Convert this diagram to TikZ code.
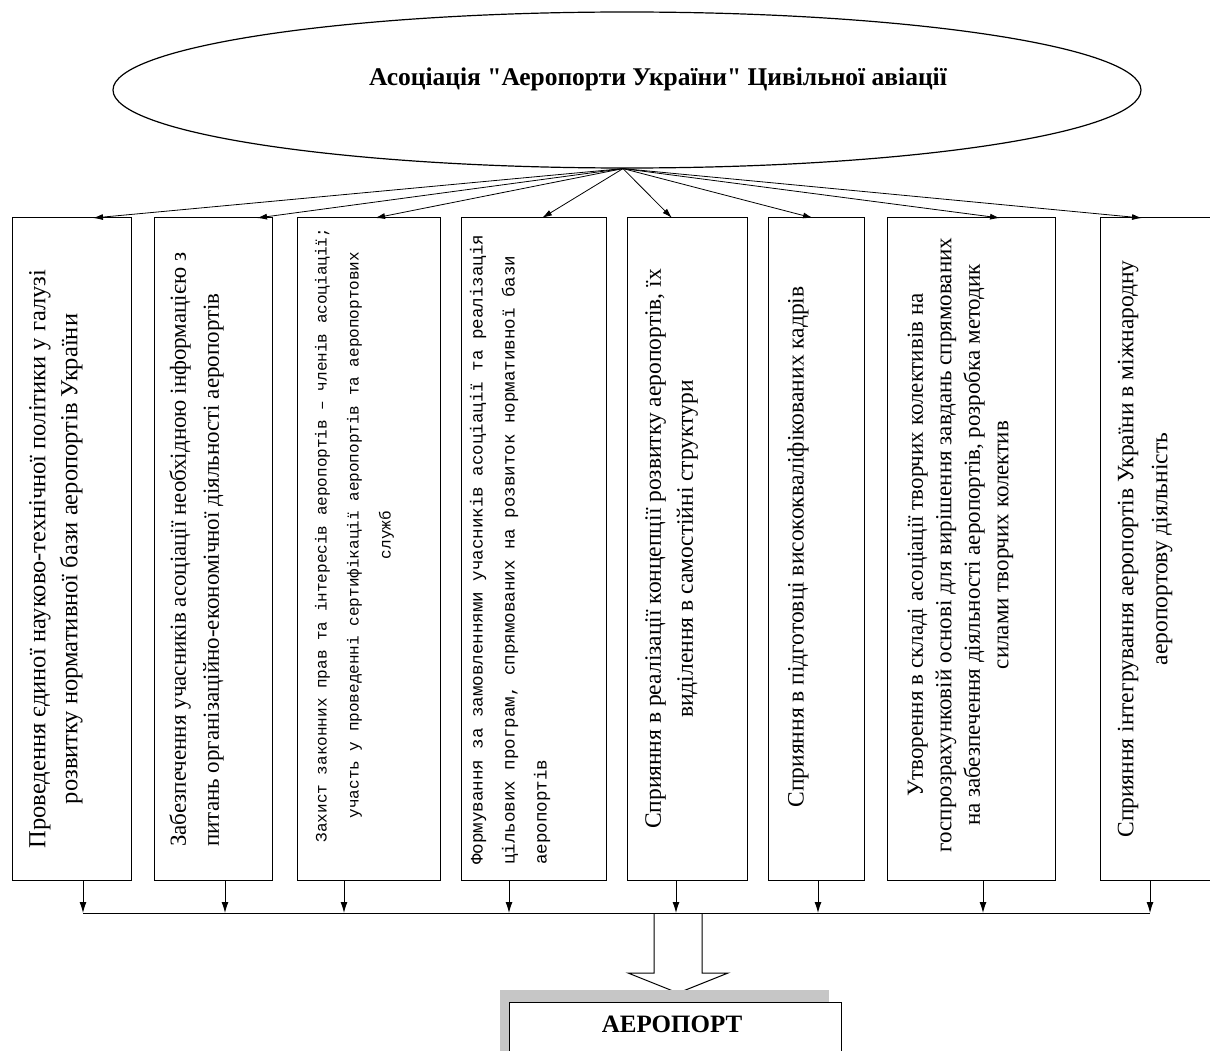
\documentclass[tikz,border=0pt]{standalone}
\usepackage{fontspec}
\setmainfont{Liberation Serif}
\setmonofont{Liberation Mono}
\newfontfamily\titlefont{Liberation Serif}[Ligatures=TeXOff]
\usetikzlibrary{arrows.meta,calc,shapes.geometric}
\tikzset{
  box/.style={draw, line width=1pt, rectangle, inner sep=0pt, outer sep=0pt, minimum height=662pt},
  vtext/.style={rotate=90, inner sep=0pt, font=\fontsize{23.5}{32}\selectfont},
  arr/.style={-{Latex[length=10pt,width=6pt]}, line width=0.8pt},
  barr/.style={-{Latex[length=11pt,width=7pt]}, line width=0.9pt},
}
\begin{document}
\begin{tikzpicture}[x=1pt,y=-1pt]
\useasboundingbox (0,0) rectangle (1210,1051);
\clip (0,0) rectangle (1210,1051);
% top ellipse
\node[ellipse, draw, line width=1.2pt, minimum width=1028pt, minimum height=156pt, inner sep=0pt] (ell) at (627,90) {};
\node[font=\titlefont\bfseries\fontsize{25.5}{28}\selectfont, inner sep=0pt] (title) at (658,79) {Асоціація "Аеропорти України" Цивільної авіації};
% boxes
\node[box, minimum width=119pt] (b1) at (71.5,549) {};
\node[box, minimum width=118pt] (b2) at (213,549) {};
\node[box, minimum width=143pt] (b3) at (368.5,549) {};
\node[box, minimum width=145pt] (b4) at (533.5,549) {};
\node[box, minimum width=120pt] (b5) at (687,549) {};
\node[box, minimum width=96pt] (b6) at (816,549) {};
\node[box, minimum width=168pt] (b7) at (971,549) {};
\node[box, minimum width=140pt] (b8) at (1170,549) {};
% texts
\node[vtext, align=center, font=\fontsize{24.5}{32}\selectfont] (t1) at (56,559) {Проведення єдиної науково-технічної політики у галузі\\розвитку нормативної бази аеропортів України};
\node[vtext, align=left, anchor=west, font=\fontsize{23}{33}\selectfont] (t2) at (196.5,847) {Забезпечення учасників асоціації необхідною інформацією з\\питань організаційно-економічної діяльності аеропортів};
\node[vtext, align=center, font=\ttfamily\fontsize{16}{32}\selectfont] (t3) at (354.5,535) {Захист законних прав та інтересів аеропортів – членів асоціації;\\участь у проведенні сертифікації аеропортів та аеропортових\\служб};
\node[vtext, align=left, anchor=west, font=\ttfamily\fontsize{17.5}{32}\selectfont] (t4) at (510,865) {Формування за замовленнями учасників асоціації та реалізація\\цільових програм, спрямованих на розвиток нормативної бази\\аеропортів};
\node[vtext, align=center] (t5) at (671.5,549) {Сприяння в реалізації концепції розвитку аеропортів, їх\\виділення в самостійні структури};
\node[vtext, align=center] (t6) at (798,547) {Сприяння в підготовці висококваліфікованих кадрів};
\node[vtext, align=center, font=\fontsize{23}{28.5}\selectfont] (t7) at (960.5,545) {Утворення в складі асоціації творчих колективів на\\госпрозрахунковій основі для вирішення завдань спрямованих\\на забезпечення діяльності аеропортів, розробка методик\\силами творчих колектив};
\node[vtext, align=center, font=\fontsize{23.5}{34}\selectfont] (t8) at (1145,549) {Сприяння інтегрування аеропортів України в міжнародну\\аеропортову діяльність};
% arrows from ellipse
\coordinate (hub) at ($(ell.south)+(-4,0)$);
\foreach \b/\d in {b1/81,b2/103,b3/78,b4/81,b5/45,b6/45,b7/113,b8/42}
  \draw[arr] (hub) -- ($(\b.north west)+(\d,0)$);
% hollow arrow
\draw[fill=white, line width=1pt] (654,913) -- (654,973) -- (628,973) -- (678,993) -- (728,973) -- (702,973) -- (702,913);
% bottom bus
\coordinate (busL) at (83,913);
\coordinate (busR) at (1150,913);
\draw[line width=1pt] (busL) -- (busR);
\foreach \b/\d in {b1/71,b2/71,b3/47,b4/48,b5/49,b6/50,b7/96,b8/50}{
  \path ($(\b.south west)+(\d,0)$) coordinate (\b d);
  \draw[barr] (\b d) -- (\b d |- busL);
}
% airport box
\node[fill=gray!45, minimum width=329pt, minimum height=80pt, inner sep=0pt, anchor=north west] (apsh) at (500,990) {};
\node[draw, fill=white, line width=1pt, minimum width=332pt, minimum height=80pt, inner sep=0pt, anchor=north west] (ap) at (509,1002) {};
\node[font=\bfseries\fontsize{25}{28}\selectfont, inner sep=0pt] (aptext) at (672,1024) {АЕРОПОРТ};
\end{tikzpicture}
\end{document}
